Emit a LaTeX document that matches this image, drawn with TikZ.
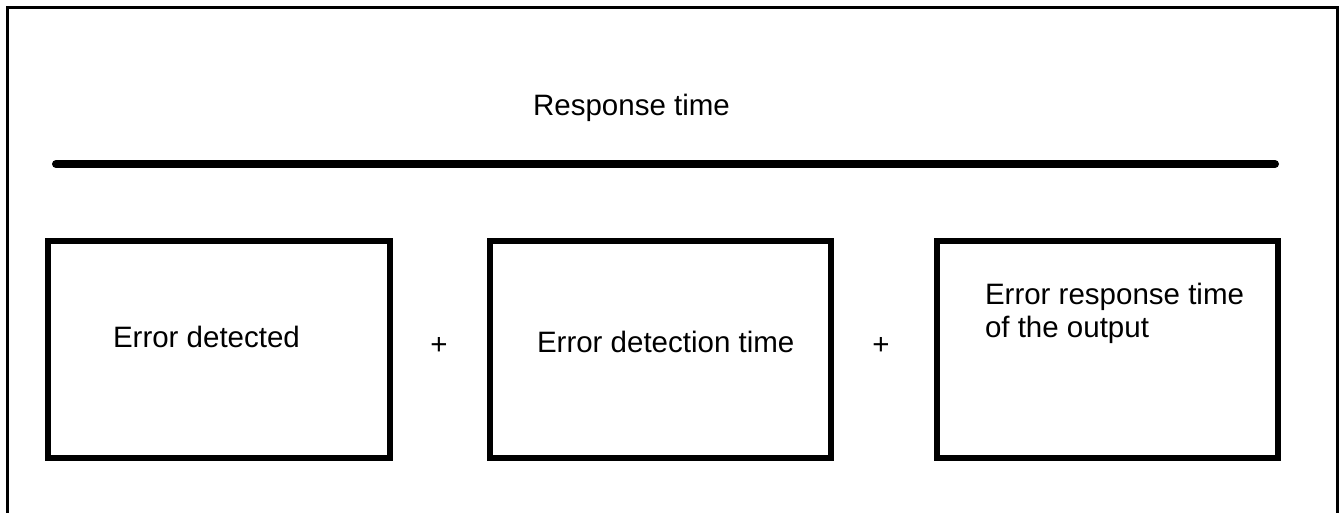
\documentclass[tikz,border=0pt]{standalone}
\usepackage{fontspec}
\setmainfont{Liberation Sans}
\begin{document}
\begin{tikzpicture}[x=1pt,y=-1pt,
  lbl/.style={inner sep=0pt,outer sep=0pt,font=\fontsize{29.5}{33}\selectfont},
  stepbox/.style={draw=black,line width=6pt},
  frameline/.style={draw=black,line width=2.6pt},
  spanline/.style={draw=black,line width=8pt,line cap=round}]
\useasboundingbox (0,0) rectangle (1339,512);
\fill[white] (0,0) rectangle (1339,512);
% outer frame (open at the bottom)
\draw[frameline] (7.3,530) -- (7.3,7.3) -- (1337.7,7.3) -- (1337.7,530);
% response time line
\coordinate (ls) at (56,164);
\coordinate (le) at (1275,164);
\draw[spanline] (ls) -- (le);
\node[lbl,anchor=base] (rt) at (631.5,115) {Response time};
% boxes
\draw[stepbox] (48,241) rectangle (390,458);
\draw[stepbox] (490,241) rectangle (831,458);
\draw[stepbox] (937,241) rectangle (1278,458);
\node[lbl,anchor=base west] (t1) at (113,347) {Error detected};
\node[lbl,anchor=base west] (t2) at (537,352) {Error detection time};
\node[lbl,anchor=base west,align=left] (t3) at (985,337) {Error response time\\of the output};
\node[lbl,anchor=base] (p1) at (439,354) {+};
\node[lbl,anchor=base] (p2) at (881,354) {+};
\end{tikzpicture}
\end{document}
